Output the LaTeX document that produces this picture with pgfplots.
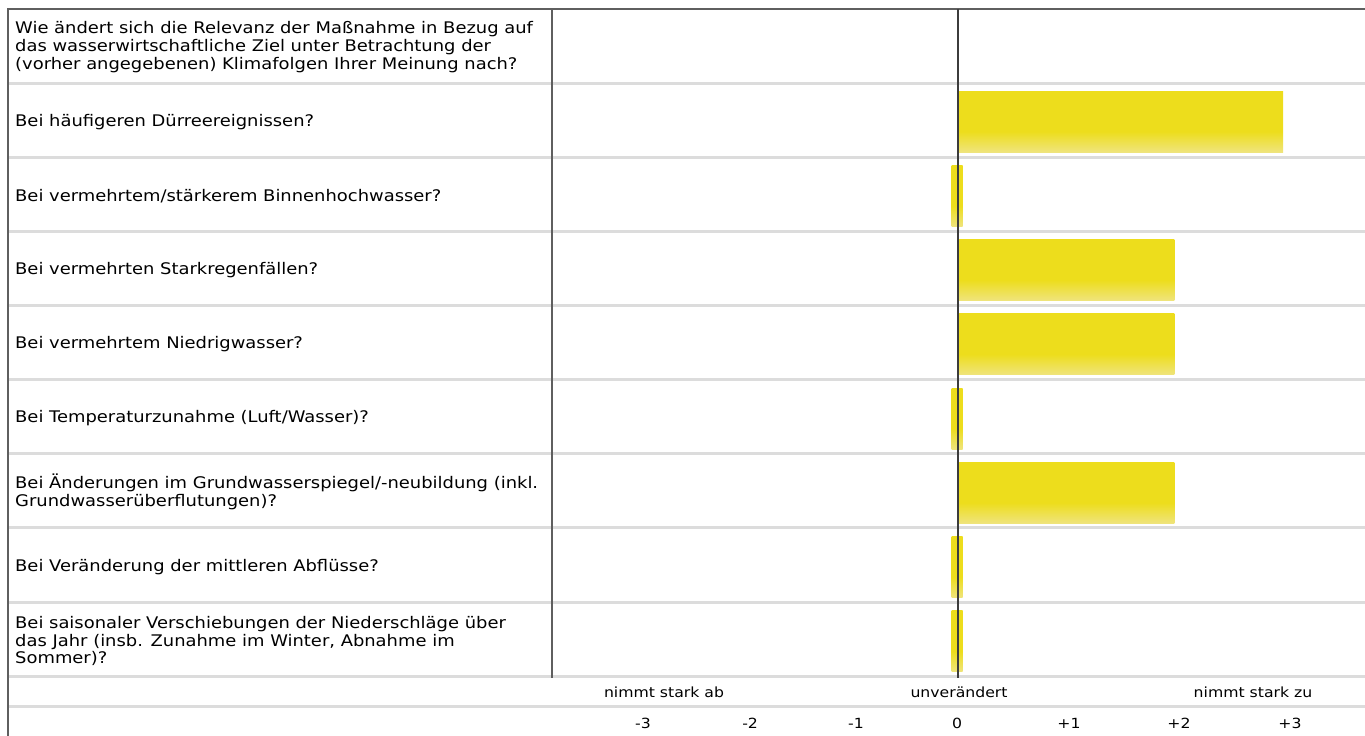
\documentclass[border=0pt]{standalone}
\usepackage{fontspec}
\setmainfont[FakeStretch=1.12]{DejaVu Sans}
\usepackage{pgfplots}
\pgfplotsset{compat=1.18}
\definecolor{baryellow}{RGB}{237,221,28}
\definecolor{barlight}{RGB}{239,228,125}
\definecolor{sepgray}{RGB}{220,220,220}
\definecolor{framegray}{RGB}{95,95,95}
\definecolor{zerogray}{RGB}{60,60,60}
\pgfdeclareverticalshading{barshade}{100bp}{color(0bp)=(barlight); color(25bp)=(barlight); color(42bp)=(baryellow); color(100bp)=(baryellow)}
\pgfdeclareplotmark{zerobar}{%
  \pgfpathrectangle{\pgfpoint{-5.5pt}{-30.5pt}}{\pgfpoint{11pt}{61pt}}%
  \pgfshadepath{barshade}{0}\pgfusepath{discard}}
\begin{document}
\begin{tikzpicture}
\begin{axis}[
  at={(0,0)}, anchor=south west, scale only axis,
  width=1358pt, height=727pt,
  xmin=-8.7397, xmax=3.7534,
  ymin=-0.4983, ymax=9.2929, y dir=reverse,
  axis line style={draw=none},
  major tick length=0pt,
  ytick=\empty,
  xtick={-2.889,-1.904,-0.929,0,1.030,2.042,3.063},
  xticklabels={-3,-2,-1,0,+1,+2,+3},
  xticklabel style={anchor=center, yshift=13pt, font=\fontsize{14}{16}\selectfont, inner sep=0pt},
  bars/.style={xbar, bar width=61pt, bar shift=0pt, draw=none, shade, shading=barshade, mark=none},
]
% Bars (value, row): one plot per bar so that each bar gets its own gradient
\addplot[bars] coordinates {(3,1.02)};
\addplot[bars] coordinates {(2,3.02)};
\addplot[bars] coordinates {(2,4.02)};
\addplot[bars] coordinates {(2,6.02)};
% Answers with value 0 (drawn as thin marker at zero)
\addplot[only marks, mark=zerobar]
  coordinates {(0,2.02) (0,5.02) (0,7.02) (0,8.02)};
\end{axis}
\begin{scope}[x=1pt, y=1pt]
% grid of the table
\foreach \y in {652.5,578,504,430,356,282,208,133,59,29}
  \draw[sepgray, line width=3pt] (1,\y) -- (1358,\y);
\draw[framegray, line width=2pt] (0,726.5) -- (1358,726.5);
\draw[framegray, line width=2pt] (0.5,0) -- (0.5,727.5);
\draw[framegray, line width=2pt] (545,727) -- (545,58);
\draw[zerogray, line width=2pt] (950.5,727) -- (950.5,58);
% left column
\begin{scope}[every node/.style={anchor=west, align=left, inner sep=0pt, font=\fontsize{16}{17.6}\selectfont}]
\node at (8,689) {Wie ändert sich die Relevanz der Maßnahme in Bezug auf\\das wasserwirtschaftliche Ziel unter Betrachtung der\\(vorher angegebenen) Klimafolgen Ihrer Meinung nach?};
\node at (8,614) {Bei häufigeren Dürreereignissen?};
\node at (8,540) {Bei vermehrtem/stärkerem Binnenhochwasser?};
\node at (8,466) {Bei vermehrten Starkregenfällen?};
\node at (8,392) {Bei vermehrtem Niedrigwasser?};
\node at (8,318) {Bei Temperaturzunahme (Luft/Wasser)?};
\node at (8,244) {Bei Änderungen im Grundwasserspiegel/-neubildung (inkl.\\Grundwasserüberflutungen)?};
\node at (8,169) {Bei Veränderung der mittleren Abflüsse?};
\node at (8,95) {Bei saisonaler Verschiebungen der Niederschläge über\\das Jahr (insb. Zunahme im Winter, Abnahme im\\Sommer)?};
\end{scope}
\begin{scope}[every node/.style={anchor=center, inner sep=0pt, font=\fontsize{14}{16}\selectfont}]
\node at (657,44) {nimmt stark ab};
\node at (952,44) {unverändert};
\node at (1246,44) {nimmt stark zu};
\end{scope}
\pgfresetboundingbox
\useasboundingbox (-7,0) rectangle (1358,736);
\end{scope}
\end{tikzpicture}
\end{document}
